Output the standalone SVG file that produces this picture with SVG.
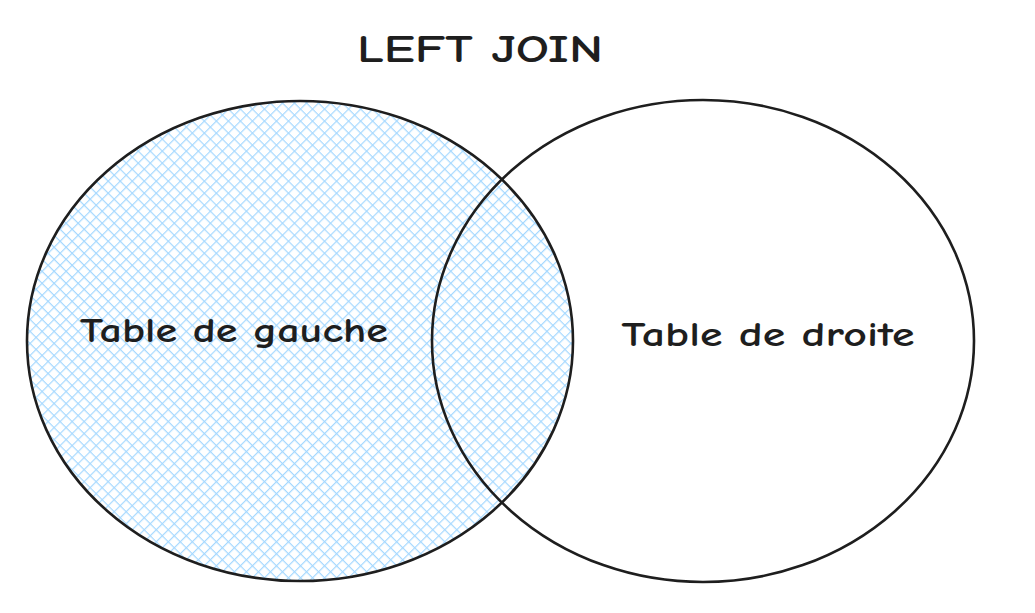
<svg xmlns="http://www.w3.org/2000/svg" width="1035" height="613" viewBox="0 0 1035 613">
  <defs>
    <pattern id="hatch" patternUnits="userSpaceOnUse" width="8.5" height="8.5" patternTransform="rotate(45)">
      <line x1="0" y1="0" x2="0" y2="8.5" stroke="#a5d8ff" stroke-width="2.4"/>
      <line x1="0" y1="0" x2="8.5" y2="0" stroke="#a5d8ff" stroke-width="2.4"/>
    </pattern>
  </defs>
  <style>
    .circle { stroke: #1e1e1e; stroke-width: 2.6; }
    .label { font-family: "Comic Neue", "Lato", "Noto Sans", sans-serif; fill: #1e1e1e; font-weight: 600; }
  </style>
  <rect width="1035" height="613" fill="#ffffff"/>
  <g id="left-table">
    <ellipse class="circle" cx="300" cy="341" rx="273" ry="240" fill="url(#hatch)"/>
    <text class="label" x="234" y="342" font-size="34" text-anchor="middle" textLength="308" lengthAdjust="spacingAndGlyphs">Table de gauche</text>
  </g>
  <g id="right-table">
    <ellipse class="circle" cx="703" cy="341" rx="271" ry="241" fill="none"/>
    <text class="label" x="768" y="346" font-size="34" text-anchor="middle" textLength="293" lengthAdjust="spacingAndGlyphs">Table de droite</text>
  </g>
  <g id="title">
    <text class="label" x="480" y="62" font-size="38" text-anchor="middle" textLength="246" lengthAdjust="spacingAndGlyphs">LEFT JOIN</text>
  </g>
  <g id="connectors"></g>
</svg>
